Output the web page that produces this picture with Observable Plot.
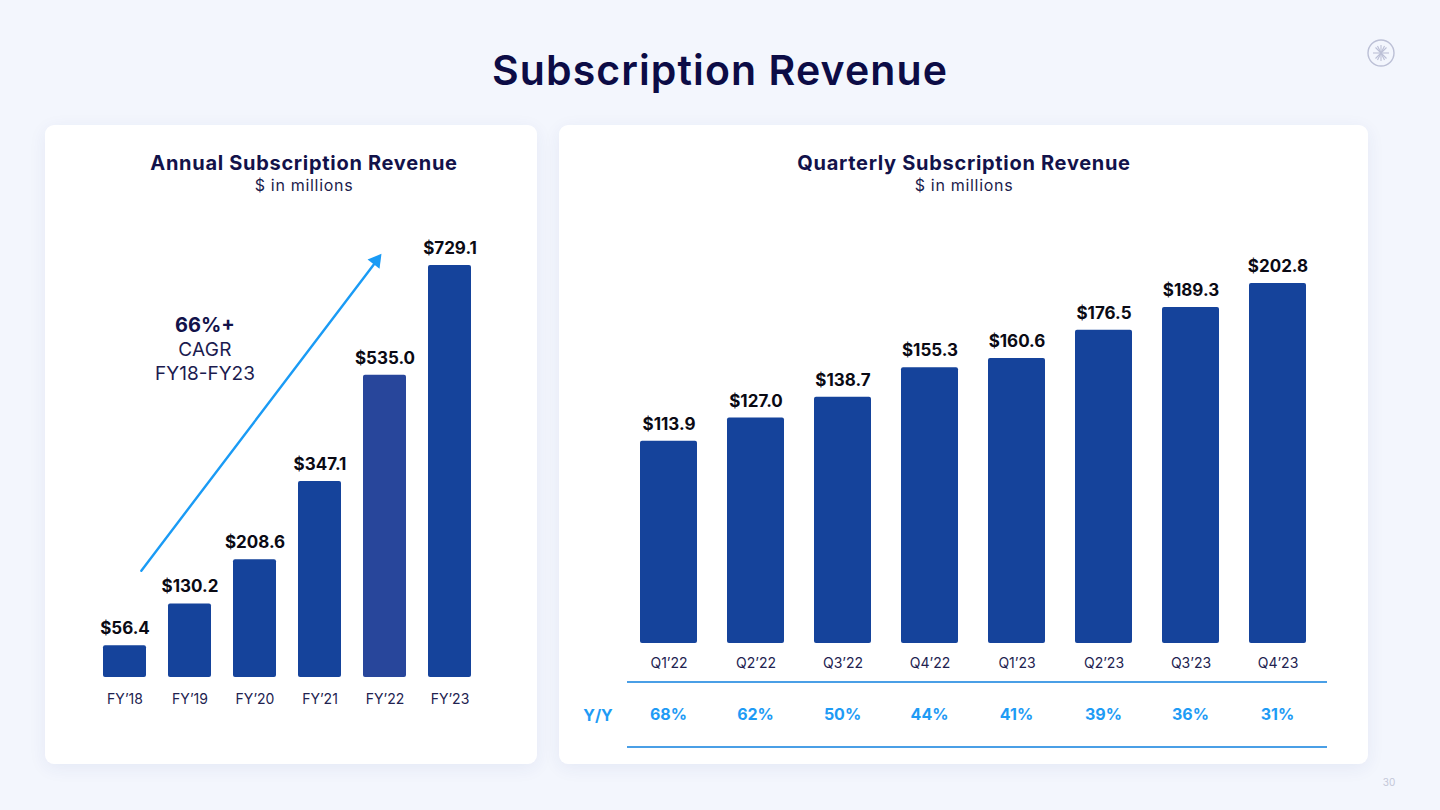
<!DOCTYPE html>
<html><head><meta charset="utf-8">
<script src="https://cdn.jsdelivr.net/npm/d3@7"></script>
<script src="https://cdn.jsdelivr.net/npm/@observablehq/plot@0.6"></script>
<style>
html,body{margin:0;padding:0;}
body{width:1440px;height:810px;background:#f3f6fd;position:relative;overflow:hidden;font-family:Inter,"Noto Sans",sans-serif;}
.abs{position:absolute;}
.card{position:absolute;background:#fff;border-radius:9px;box-shadow:0 4px 18px rgba(40,60,140,0.07);}
.ctr{position:absolute;transform:translate(-50%,-50%);white-space:nowrap;text-align:center;}
</style></head>
<body>
<div class="ctr" style="left:720px;top:70px;font-size:41px;font-weight:600;color:#0c0c46;letter-spacing:1.1px;">Subscription Revenue</div>
<svg class="abs" style="left:1366px;top:38px" width="30" height="30" viewBox="0 0 30 30">
  <circle cx="15" cy="15" r="13" fill="none" stroke="#bcc0d6" stroke-width="1.4"/>
  <g stroke="#bcc0d6" stroke-width="1.1">
    <line x1="15" y1="7" x2="15" y2="23"/><line x1="7" y1="15" x2="23" y2="15"/>
    <line x1="9.5" y1="9.5" x2="20.5" y2="20.5"/><line x1="20.5" y1="9.5" x2="9.5" y2="20.5"/>
    <line x1="11.5" y1="8" x2="18.5" y2="22"/><line x1="18.5" y1="8" x2="11.5" y2="22"/>
  </g>
</svg>
<div class="card" style="left:45px;top:125px;width:492px;height:639px;"></div>
<div class="card" style="left:559px;top:125px;width:809px;height:639px;"></div>
<div class="ctr" style="left:304px;top:163px;font-size:20px;font-weight:700;color:#12124a;letter-spacing:0.7px;">Annual Subscription Revenue</div>
<div class="ctr" style="left:304px;top:185px;font-size:16px;color:#1c1c4c;letter-spacing:0.7px;">$ in millions</div>
<div class="ctr" style="left:964px;top:163px;font-size:20px;font-weight:700;color:#12124a;letter-spacing:0.7px;">Quarterly Subscription Revenue</div>
<div class="ctr" style="left:964px;top:185px;font-size:16px;color:#1c1c4c;letter-spacing:0.7px;">$ in millions</div>
<div class="ctr" style="left:205px;top:325px;font-size:20px;font-weight:700;color:#12124a;">66%+</div>
<div class="ctr" style="left:205px;top:349px;font-size:19px;color:#1b1b4f;letter-spacing:0.3px;">CAGR</div>
<div class="ctr" style="left:205px;top:373px;font-size:19px;color:#1b1b4f;">FY18-FY23</div>
<div id="annual" class="abs" style="left:45px;top:200px;"></div>
<div id="quarterly" class="abs" style="left:559px;top:200px;"></div>
<div class="abs" style="left:627px;top:681px;width:700px;height:1.5px;background:#4a9fe6;"></div>
<div class="abs" style="left:627px;top:746px;width:700px;height:1.5px;background:#4a9fe6;"></div>
<div class="ctr" style="left:598px;top:715px;font-size:16px;font-weight:700;color:#1e9bf5;">Y/Y</div>
<div id="yoy" class="abs" style="left:559px;top:681px;"></div>
<div class="ctr" style="left:1389px;top:782px;font-size:10px;color:#c3c7d8;">30</div>
<script>
const annualYears = ["FY’18","FY’19","FY’20","FY’21","FY’22","FY’23"];
const annualValues = [56.4,130.2,208.6,347.1,535.0,729.1];
const quarters = ["Q1’22","Q2’22","Q3’22","Q4’22","Q1’23","Q2’23","Q3’23","Q4’23"];
const quarterValues = [113.9,127.0,138.7,155.3,160.6,176.5,189.3,202.8];
const yoyGrowth = [68,62,50,44,41,39,36,31];
const cagrArrow = [{from:"FY’18", to:"FY’22", v1:151, v2:757}];

const FONT = 'Inter, "Noto Sans", sans-serif';
const BAR = "#15439b", BAR_HL = "#28469b";
const annual = annualYears.map((year,i)=>({year, value:annualValues[i]}));
const quarterly = quarters.map((q,i)=>({q, value:quarterValues[i], yoy:yoyGrowth[i]}));
const fmt = d => "$" + d.value.toFixed(1);

const p1 = Plot.plot({
  width:492, height:520,
  marginLeft:44.7, marginRight:53.7, marginTop:25, marginBottom:43,
  style:{fontFamily:FONT, background:"transparent", overflow:"visible"},
  x:{domain:annualYears, paddingInner:0.345, paddingOuter:0.1725},
  y:{domain:[0,800], axis:null},
  marks:[
    Plot.barY(annual,{x:"year", y:"value", fill:d=>d.year==="FY’22"?BAR_HL:BAR, rx:2}),
    Plot.text(annual,{x:"year", y:"value", text:fmt, dy:-17, fontSize:17, fontWeight:700, fill:"#0a0a14", letterSpacing:"0.3px"}),
    Plot.axisX({tickSize:0, tickPadding:17, fontSize:14, color:"#222250", label:null}),
    Plot.arrow(cagrArrow,{x1:"from", x2:"to", y1:"v1", y2:"v2", stroke:"#1a9bf5", strokeWidth:2.4, headLength:0, insetStart:27, insetEnd:10}),
    Plot.dot(cagrArrow,{x:"to", y:"v2", symbol:"triangle", r:5.6, rotate:37.5, fill:"#1a9bf5", stroke:null, dx:-8.8, dy:10.9})
  ]
});
document.getElementById("annual").append(p1);

const p2 = Plot.plot({
  width:809, height:480,
  marginLeft:64.9, marginRight:46.9, marginTop:17, marginBottom:37,
  style:{fontFamily:FONT, background:"transparent", overflow:"visible"},
  x:{domain:quarters, paddingInner:0.346, paddingOuter:0.173},
  y:{domain:[0,240], axis:null},
  marks:[
    Plot.barY(quarterly,{x:"q", y:"value", fill:BAR, rx:2}),
    Plot.text(quarterly,{x:"q", y:"value", text:fmt, dy:-17, fontSize:17, fontWeight:700, fill:"#0a0a14", letterSpacing:"0.3px"}),
    Plot.axisX({tickSize:0, tickPadding:15, fontSize:14, color:"#222250", label:null})
  ]
});
document.getElementById("quarterly").append(p2);

const p3 = Plot.plot({
  width:809, height:66,
  marginLeft:64.9, marginRight:46.9, marginTop:0, marginBottom:0,
  style:{fontFamily:FONT, background:"transparent", overflow:"visible"},
  x:{domain:quarters, paddingInner:0.346, paddingOuter:0.173, axis:null},
  marks:[
    Plot.text(quarterly,{x:"q", text:d=>d.yoy+"%", frameAnchor:"middle", fontSize:16, fontWeight:700, fill:"#1e9bf5"})
  ]
});
document.getElementById("yoy").append(p3);
</script>
</body></html>
